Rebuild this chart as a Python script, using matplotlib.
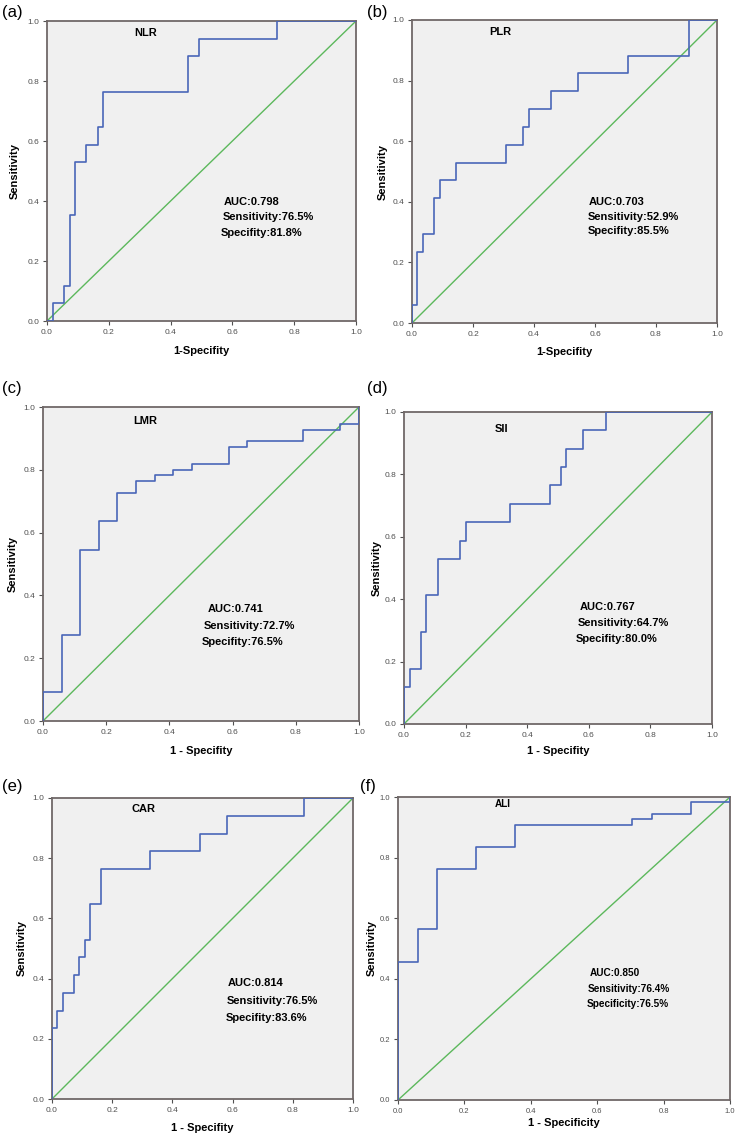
import matplotlib
matplotlib.use("Agg")
import matplotlib.pyplot as plt

plt.rcParams['font.family'] = ['Liberation Sans', 'DejaVu Sans']

# ROC curve corners (1 - specificity, sensitivity), drawn as a post step
nlr_fpr = [0.0, 0.018, 0.055, 0.073, 0.091, 0.127, 0.164, 0.182, 0.455, 0.491, 0.745, 1.0]
nlr_tpr = [0.0, 0.059, 0.118, 0.353, 0.529, 0.588, 0.647, 0.765, 0.882, 0.941, 1.0, 1.0]

plr_fpr = [0.0, 0.0, 0.018, 0.036, 0.073, 0.091, 0.145, 0.309, 0.364, 0.382, 0.455, 0.545, 0.709, 0.909, 1.0]
plr_tpr = [0.0, 0.059, 0.235, 0.294, 0.412, 0.471, 0.529, 0.588, 0.647, 0.706, 0.765, 0.824, 0.882, 1.0, 1.0]

lmr_fpr = [0.0, 0.0, 0.059, 0.118, 0.176, 0.235, 0.294, 0.353, 0.412, 0.471, 0.588, 0.647, 0.824, 0.941, 1.0]
lmr_tpr = [0.0, 0.091, 0.273, 0.545, 0.636, 0.727, 0.764, 0.782, 0.800, 0.818, 0.873, 0.891, 0.927, 0.945, 1.0]

sii_fpr = [0.0, 0.0, 0.018, 0.055, 0.073, 0.109, 0.182, 0.200, 0.345, 0.473, 0.509, 0.527, 0.582, 0.655, 1.0]
sii_tpr = [0.0, 0.118, 0.176, 0.294, 0.412, 0.529, 0.588, 0.647, 0.706, 0.765, 0.824, 0.882, 0.941, 1.0, 1.0]

car_fpr = [0.0, 0.0, 0.018, 0.036, 0.073, 0.091, 0.109, 0.127, 0.164, 0.327, 0.491, 0.582, 0.836, 1.0]
car_tpr = [0.0, 0.235, 0.294, 0.353, 0.412, 0.471, 0.529, 0.647, 0.765, 0.824, 0.882, 0.941, 1.0, 1.0]

ali_fpr = [0.0, 0.0, 0.059, 0.118, 0.235, 0.353, 0.706, 0.765, 0.882, 1.0]
ali_tpr = [0.0, 0.455, 0.564, 0.764, 0.836, 0.909, 0.927, 0.945, 0.982, 1.0]

markers = ['NLR', 'PLR', 'LMR', 'SII', 'CAR', 'ALI']
panel_tags = ['(a)', '(b)', '(c)', '(d)', '(e)', '(f)']
auc_text = ['AUC:0.798', 'AUC:0.703', 'AUC:0.741', 'AUC:0.767', 'AUC:0.814', 'AUC:0.850']
sens_text = ['Sensitivity:76.5%', 'Sensitivity:52.9%', 'Sensitivity:72.7%',
             'Sensitivity:64.7%', 'Sensitivity:76.5%', 'Sensitivity:76.4%']
spec_text = ['Specifity:81.8%', 'Specifity:85.5%', 'Specifity:76.5%',
             'Specifity:80.0%', 'Specifity:83.6%', 'Specificity:76.5%']
x_labels = ['1-Specifity', '1-Specifity', '1 - Specifity', '1 - Specifity',
            '1 - Specifity', '1 - Specificity']
ticks = [0.0, 0.2, 0.4, 0.6, 0.8, 1.0]
diag = [0, 1]

curves = [(nlr_fpr, nlr_tpr), (plr_fpr, plr_tpr), (lmr_fpr, lmr_tpr),
          (sii_fpr, sii_tpr), (car_fpr, car_tpr), (ali_fpr, ali_tpr)]

W, H = 738, 1138
# axes boxes in pixels: left, top, right, bottom
boxes = [(47, 21, 356, 321), (412, 20, 717, 323),
         (43, 407, 359, 721), (404, 412, 712, 724),
         (52, 798, 353, 1099), (398, 797, 730, 1100)]
# text anchors (data coords): marker name, then AUC / sens / spec lines
name_pos = [(0.32, 0.96), (0.29, 0.96), (0.323, 0.956), (0.316, 0.946), (0.303, 0.963), (0.316, 0.976)]
info_pos = [[(0.573, 0.397), (0.570, 0.347), (0.563, 0.293)],
            [(0.580, 0.400), (0.577, 0.351), (0.577, 0.304)],
            [(0.520, 0.356), (0.509, 0.302), (0.503, 0.251)],
            [(0.572, 0.374), (0.565, 0.323), (0.558, 0.272)],
            [(0.585, 0.386), (0.581, 0.327), (0.577, 0.270)],
            [(0.577, 0.418), (0.570, 0.367), (0.568, 0.316)]]
tag_pos = [(2, 12), (367, 12), (2, 388), (367, 388), (2, 787), (360, 787)]
ylab_x = [15, 383, 13, 377, 22, 372]
xlab_y = [351, 352, 751, 751, 1128, 1123]
info_size = [8, 8, 8, 8, 8, 7.2]
tick_size = [6, 6, 6, 6, 6, 5.5]

fig = plt.figure(figsize=(W / 100, H / 100), dpi=100)

for i, (fpr, tpr) in enumerate(curves):
    l, t, r, b = boxes[i]
    ax = fig.add_axes([l / W, 1 - b / H, (r - l) / W, (b - t) / H])
    ax.set_facecolor('#f0f0f0')
    ax.plot(diag, diag, color='#5cb85c', lw=1.0, zorder=2)
    ax.step(fpr, tpr, where='post', color='#4a66b8', lw=1.2, zorder=3)
    ax.set_xlim(0, 1)
    ax.set_ylim(0, 1)
    ax.set_xticks(ticks)
    ax.set_yticks(ticks)
    ax.set_xticklabels([f'{v:.1f}' for v in ticks])
    ax.set_yticklabels([f'{v:.1f}' for v in ticks])
    ax.tick_params(labelsize=tick_size[i], colors='#505050', length=3, width=0.8, pad=2.5)
    for s in ax.spines.values():
        s.set_color('#706868')
        s.set_linewidth(1.3)

    ax.text(name_pos[i][0], name_pos[i][1], markers[i], ha='center', va='center',
            fontsize=info_size[i], fontweight='bold')
    for txt, (x, y) in zip([auc_text[i], sens_text[i], spec_text[i]], info_pos[i]):
        ax.text(x, y, txt, ha='left', va='center', fontsize=info_size[i], fontweight='bold')

    # axis labels placed at the reference positions
    fig.text(ylab_x[i] / W, 1 - (t + b) / 2 / H, 'Sensitivity', rotation=90,
             ha='center', va='center', fontsize=8, fontweight='bold')
    fig.text((l + r) / 2 / W, 1 - xlab_y[i] / H, x_labels[i],
             ha='center', va='center', fontsize=8, fontweight='bold')
    fig.text(tag_pos[i][0] / W, 1 - tag_pos[i][1] / H, panel_tags[i],
             ha='left', va='center', fontsize=12)

fig.savefig('out.png', dpi=100)
